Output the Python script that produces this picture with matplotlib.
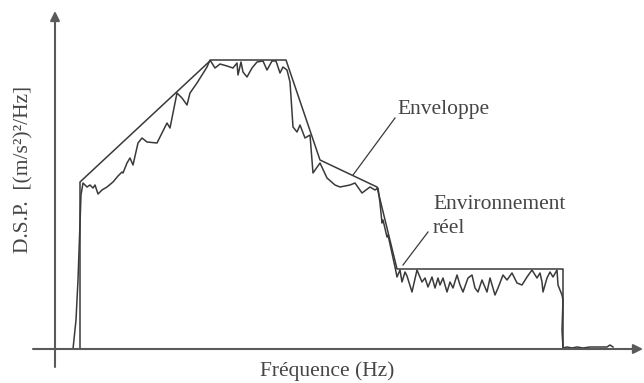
import matplotlib
matplotlib.use("Agg")
import matplotlib.pyplot as plt

plt.rcParams["font.family"] = ["Liberation Serif", "DejaVu Serif"]

# template (envelope) in arbitrary frequency / PSD units
env_freq = [25, 25, 156, 231, 265, 322, 342, 508, 508]
env_dsp = [0, 167, 289, 289, 189, 162, 80, 80, 0]

# measured spectrum
real_freq = [18, 21, 23, 26, 28, 32, 35, 38, 40, 43, 47, 52, 58, 63, 67, 68,
             72, 75, 78, 83, 87, 92, 102, 108, 112, 115, 120, 122, 127, 132,
             135, 142, 152, 155, 160, 165, 172, 178, 182, 183, 186, 188, 192,
             197, 202, 208, 212, 217, 221, 225, 228, 232, 235, 238, 242, 245,
             250, 255, 258, 265, 272, 280, 285, 295, 300, 307, 315, 320, 323,
             325, 327, 328, 332, 333, 337, 340, 342, 345, 347, 350, 352, 357,
             362, 367, 370, 373, 377, 380, 383, 385, 388, 392, 395, 398, 402,
             405, 408, 413, 417, 420, 423, 427, 432, 435, 440, 443, 448, 452,
             457, 462, 467, 472, 477, 482, 485, 487, 488, 492, 495, 498, 502,
             503, 507, 508, 507, 508, 512, 517, 522, 528, 535, 543, 552, 555,
             558]
real_dsp = [0, 29, 69, 154, 166, 162, 164, 161, 164, 155, 159, 162, 167, 173,
            177, 176, 186, 191, 184, 206, 211, 207, 206, 218, 226, 221, 246,
            256, 251, 244, 256, 266, 282, 289, 281, 285, 283, 281, 286, 274,
            287, 277, 272, 281, 287, 288, 279, 288, 288, 276, 282, 279, 267,
            222, 217, 224, 211, 214, 176, 186, 171, 164, 162, 164, 166, 156,
            162, 159, 161, 146, 126, 129, 112, 114, 96, 82, 72, 79, 67, 77,
            73, 57, 79, 67, 71, 62, 72, 61, 71, 64, 71, 57, 67, 61, 74, 64,
            57, 71, 74, 61, 57, 69, 57, 71, 54, 61, 74, 69, 76, 66, 64, 72,
            79, 71, 76, 67, 57, 71, 77, 72, 79, 64, 54, 49, 19, 1, 2, 1, 2,
            1, 2, 2, 2, 4, 2]

line_col = "#3a3a3a"
axis_col = "#5a5a5a"
txt_col = "#454545"
fs = 15.5

fig = plt.figure(figsize=(6.44, 3.83), dpi=100)
ax = fig.add_axes([0, 0, 1, 1])
ax.set_xlim(-55, 589)
ax.set_ylim(-34, 349)
ax.axis("off")

# axes with arrow heads
ax.annotate("", xy=(0, 338), xytext=(0, -18),
            arrowprops=dict(arrowstyle="-|>", color=axis_col, lw=1.5,
                            mutation_scale=14, shrinkA=0, shrinkB=0))
ax.annotate("", xy=(588, 0), xytext=(-22, 0),
            arrowprops=dict(arrowstyle="-|>", color=axis_col, lw=1.5,
                            mutation_scale=14, shrinkA=0, shrinkB=0))

ax.plot(env_freq, env_dsp, color=line_col, lw=1.1)
ax.plot(real_freq, real_dsp, color=line_col, lw=1.1)

# labels and leader lines
ax.plot([340, 298], [231, 174], color=line_col, lw=0.9)
ax.plot([373, 348], [117, 84], color=line_col, lw=0.9)
ax.text(342, 235, "Enveloppe", fontsize=fs, color=txt_col, va="baseline")
ax.text(378, 140, "Environnement", fontsize=fs, color=txt_col, va="baseline")
ax.text(378, 116, "réel", fontsize=fs, color=txt_col, va="baseline")

ax.text(272, -27, "Fréquence (Hz)", fontsize=fs, color=txt_col,
        ha="center", va="baseline")
ax.text(-31, 180, "D.S.P.  [(m/s²)²/Hz]", fontsize=fs, color=txt_col,
        ha="center", va="center", rotation=90)

fig.savefig("out.png", dpi=100)
